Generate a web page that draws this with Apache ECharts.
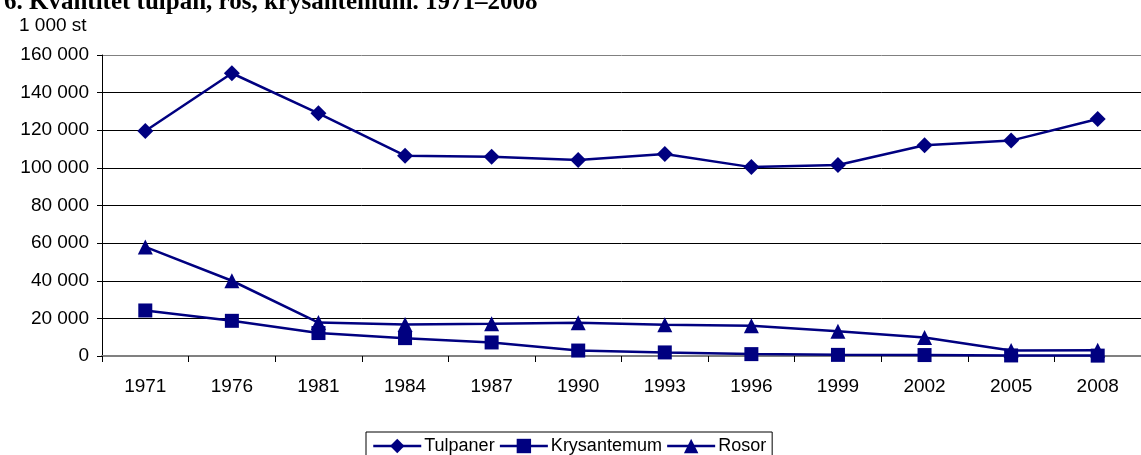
<!DOCTYPE html>
<html>
<head>
<meta charset="utf-8">
<script src="https://cdn.jsdelivr.net/npm/echarts@6/dist/echarts.min.js"></script>
<style>
  html, body { margin: 0; padding: 0; background: #fff; }
  #chart { width: 1141px; height: 455px; }
</style>
</head>
<body>
<div id="chart"></div>
<script>
const years = ['1971', '1976', '1981', '1984', '1987', '1990', '1993', '1996', '1999', '2002', '2005', '2008'];
const tulpaner = [119600, 150300, 129000, 106500, 105900, 104200, 107400, 100400, 101500, 112000, 114500, 126000];
const krysantemum = [24200, 18700, 12200, 9500, 7200, 2900, 1900, 1000, 600, 500, 300, 200];
const rosor = [58000, 40000, 17800, 16700, 17100, 17700, 16600, 16100, 13100, 9800, 2900, 3100];

const navy = '#000080';
const fmt = (v) => String(v).replace(/\B(?=(\d{3})+(?!\d))/g, ' ');

const chart = echarts.init(document.getElementById('chart'));

const lineSeries = (name, data, symbol, size) => ({
  name,
  type: 'line',
  data,
  symbol,
  symbolSize: size,
  showSymbol: true,
  lineStyle: { color: navy, width: 2.5 },
  itemStyle: { color: navy },
  animation: false
});

chart.setOption({
  backgroundColor: '#fff',
  textStyle: { fontFamily: 'Liberation Sans, Arial, sans-serif' },
  title: [
    {
      text: '6. Kvantitet tulpan, ros, krysantemum. 1971–2008',
      left: -1,
      top: -15,
      textStyle: { fontFamily: 'Liberation Serif, Times New Roman, serif', fontWeight: 'bold', fontSize: 25, color: '#000' }
    },
    {
      text: '1 000 st',
      left: 14,
      top: 11,
      textStyle: { fontFamily: 'Liberation Sans, Arial, sans-serif', fontWeight: 'normal', fontSize: 19, color: '#000' }
    }
  ],
  grid: { left: 102, right: 0, top: 55, bottom: 99, containLabel: false },
  legend: {
    data: ['Tulpaner', 'Krysantemum', 'Rosor'],
    bottom: -10,
    left: 366,
    itemWidth: 48,
    itemHeight: 18,
    itemGap: 4,
    padding: [5, 6, 10, 6],
    borderColor: '#000',
    borderWidth: 1,
    borderRadius: 0,
    lineStyle: { width: 2.5 },
    textStyle: { fontSize: 18, color: '#000', padding: [0, 0, 0, -2] }
  },
  xAxis: {
    type: 'category',
    data: years,
    boundaryGap: true,
    axisLine: { lineStyle: { color: '#808080', width: 2 } },
    axisTick: { show: true, interval: 0, length: 6, lineStyle: { color: '#000' } },
    axisLabel: { fontSize: 19, color: '#000', margin: 21, interval: 0 },
    splitLine: { show: false }
  },
  yAxis: {
    type: 'value',
    min: 0,
    max: 160000,
    interval: 20000,
    axisLine: { show: true, lineStyle: { color: '#000', width: 1 } },
    axisTick: { show: true, length: 5, lineStyle: { color: '#000' } },
    axisLabel: { fontSize: 19, color: '#000', margin: 13, formatter: fmt },
    splitLine: { show: true, lineStyle: { color: ['#000', '#000', '#000', '#000', '#000', '#000', '#000', '#000', '#808080'], width: 1 } }
  },
  series: [
    lineSeries('Tulpaner', tulpaner, 'diamond', 16),
    lineSeries('Krysantemum', krysantemum, 'rect', 14),
    lineSeries('Rosor', rosor, 'triangle', 15)
  ]
});
</script>
</body>
</html>
